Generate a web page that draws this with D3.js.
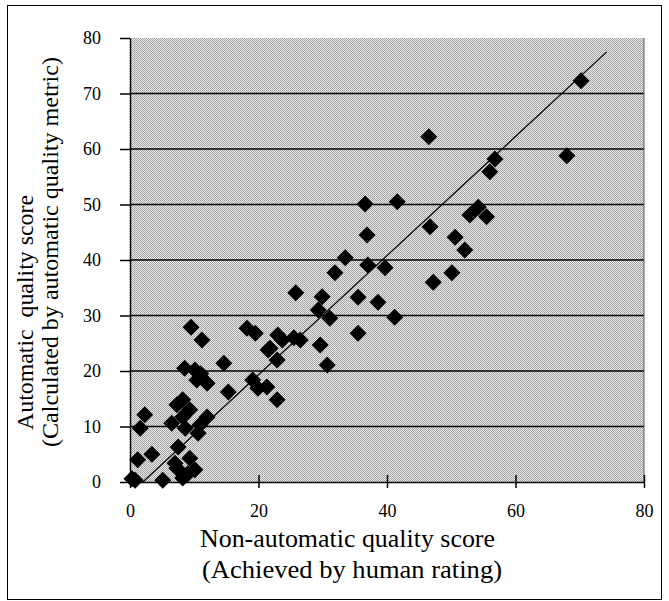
<!DOCTYPE html>
<html>
<head>
<meta charset="utf-8">
<script src="https://cdn.jsdelivr.net/npm/d3@7"></script>
<style>
  body { margin: 0; background: #fff; }
  svg text { font-family: "Liberation Serif", "Times New Roman", serif; fill: #000; }
</style>
</head>
<body>
<div id="chart"></div>
<script>
var width = 669,
    height = 601;

// scores: human rating (x) vs automatic metric (y)
var humanScore = [70.2, 46.5, 68.0, 56.8, 56.0, 36.6, 41.6, 54.2, 52.9, 55.5,
    46.7, 36.9, 50.6, 52.1, 50.1, 47.2, 33.5, 37.0, 39.7, 31.9,
    35.5, 38.6, 41.2, 25.8, 29.9, 29.3, 31.1, 35.5, 30.7, 29.6,
    26.5, 23.7, 21.8, 22.9, 21.5, 19.5, 18.2, 22.9, 21.3, 19.1,
    19.9, 15.3, 14.6, 9.5, 11.2, 10.1, 10.4, 12.0, 11.0, 8.5,
    8.2, 9.3, 7.3, 6.5, 8.2, 8.6, 10.6, 12.0, 10.9, 7.5,
    2.3, 1.6, 1.2, 3.4, 0.3, 5.1, 7.0, 7.3, 9.3, 8.2,
    10.1, 9.0, 0.8, 25.5, 23.0];
var autoScore = [72.3, 62.2, 58.8, 58.2, 55.9, 50.1, 50.5, 49.5, 48.1, 47.8,
    46.0, 44.5, 44.1, 41.8, 37.7, 36.0, 40.4, 39.1, 38.6, 37.7,
    33.3, 32.4, 29.7, 34.1, 33.4, 31.0, 29.5, 26.8, 21.1, 24.7,
    25.6, 25.6, 24.1, 22.0, 23.8, 26.8, 27.7, 14.8, 17.1, 18.4,
    16.9, 16.2, 21.4, 27.9, 25.6, 20.2, 18.4, 17.8, 19.5, 20.5,
    14.8, 13.0, 13.9, 10.6, 11.7, 9.7, 8.8, 11.7, 10.3, 6.3,
    12.1, 9.7, 4.0, 5.0, 0.6, 0.3, 3.4, 2.5, 4.3, 0.7,
    2.2, 1.5, 0.3, 26.0, 26.5];

// trend line end points
var lineX = [2, 74.2];
var lineY = [0, 77.5];

var xTicks = [0, 20, 40, 60, 80];
var yTicks = [0, 10, 20, 30, 40, 50, 60, 70, 80];

var plot = { left: 130, right: 644, top: 38, bottom: 482 };

var svg = d3.select("#chart").append("svg")
    .attr("width", width)
    .attr("height", height);

// dithered grey like the scanned original
var defs = svg.append("defs");
var pat = defs.append("pattern")
    .attr("id", "dither")
    .attr("width", 2)
    .attr("height", 2)
    .attr("patternUnits", "userSpaceOnUse");
pat.append("rect").attr("width", 2).attr("height", 2).attr("fill", "#eaeaea");
pat.append("rect").attr("width", 1).attr("height", 1).attr("fill", "#9c9c9c");
pat.append("rect").attr("x", 1).attr("y", 1).attr("width", 1).attr("height", 1).attr("fill", "#aaaaaa");

// outer frame
svg.append("rect")
    .attr("x", 7.5).attr("y", 5.5)
    .attr("width", 654).attr("height", 594)
    .attr("fill", "none")
    .attr("stroke", "#000")
    .attr("stroke-width", 1);

var x = d3.scaleLinear().domain([0, 80]).range([plot.left, plot.right]);
var y = d3.scaleLinear().domain([0, 80]).range([plot.bottom, plot.top]);

svg.append("rect")
    .attr("x", plot.left).attr("y", plot.top)
    .attr("width", plot.right - plot.left)
    .attr("height", plot.bottom - plot.top)
    .attr("fill", "url(#dither)");

// horizontal grid
svg.append("g")
    .selectAll("line")
    .data(yTicks.slice(1, -1))
    .enter().append("line")
    .attr("x1", plot.left).attr("x2", plot.right)
    .attr("y1", function(d) { return y(d); })
    .attr("y2", function(d) { return y(d); })
    .attr("stroke", "#000")
    .attr("stroke-width", 1.5);

// right edge of plot area
svg.append("line")
    .attr("x1", plot.right).attr("x2", plot.right)
    .attr("y1", plot.top).attr("y2", plot.bottom)
    .attr("stroke", "#555")
    .attr("stroke-width", 1);

// y axis
var yAxis = svg.append("g")
    .attr("transform", "translate(" + plot.left + ",0)")
    .call(d3.axisLeft(y).tickValues(yTicks).tickSize(10).tickPadding(19).tickSizeOuter(0))
    .attr("font-family", "Liberation Serif")
    .attr("font-size", 18);
yAxis.select(".domain").attr("stroke", "#000").attr("stroke-width", 1.5);
yAxis.selectAll(".tick line").attr("stroke", "#000").attr("stroke-width", 1.5);

// x axis, ticks cross the axis line
var xAxis = svg.append("g")
    .attr("transform", "translate(0," + plot.bottom + ")")
    .call(d3.axisBottom(x).tickValues(xTicks).tickSize(6).tickPadding(16).tickSizeOuter(0))
    .attr("font-family", "Liberation Serif")
    .attr("font-size", 18);
xAxis.select(".domain").attr("stroke", "#000").attr("stroke-width", 1.5);
xAxis.selectAll(".tick line")
    .attr("y1", -7)
    .attr("stroke", "#000").attr("stroke-width", 1.5);

// trend line
svg.append("line")
    .attr("x1", x(lineX[0])).attr("y1", y(lineY[0]))
    .attr("x2", x(lineX[1])).attr("y2", y(lineY[1]))
    .attr("stroke", "#000")
    .attr("stroke-width", 1.2);

// diamonds
var pts = humanScore.map(function(d, i) { return { x: d, y: autoScore[i] }; });
var r = 8.5;
svg.append("g")
    .selectAll("path")
    .data(pts)
    .enter().append("path")
    .attr("d", "M0," + (-r) + "L" + r + ",0L0," + r + "L" + (-r) + ",0Z")
    .attr("transform", function(d) { return "translate(" + x(d.x) + "," + y(d.y) + ")"; })
    .attr("fill", "#000");

// axis titles
svg.append("text")
    .attr("x", 200).attr("y", 547)
    .attr("font-size", 25)
    .attr("textLength", 295)
    .attr("lengthAdjust", "spacingAndGlyphs")
    .text("Non-automatic quality score");
svg.append("text")
    .attr("x", 202).attr("y", 578)
    .attr("font-size", 25)
    .attr("textLength", 300)
    .attr("lengthAdjust", "spacingAndGlyphs")
    .text("(Achieved by human rating)");

svg.append("text")
    .attr("transform", "translate(33,430) rotate(-90)")
    .attr("font-size", 24)
    .attr("textLength", 235)
    .attr("lengthAdjust", "spacingAndGlyphs")
    .attr("xml:space", "preserve")
    .text("Automatic  quality score");
svg.append("text")
    .attr("transform", "translate(58,447) rotate(-90)")
    .attr("font-size", 24)
    .attr("textLength", 390)
    .attr("lengthAdjust", "spacingAndGlyphs")
    .text("(Calculated by automatic quality metric)");
</script>
</body>
</html>
